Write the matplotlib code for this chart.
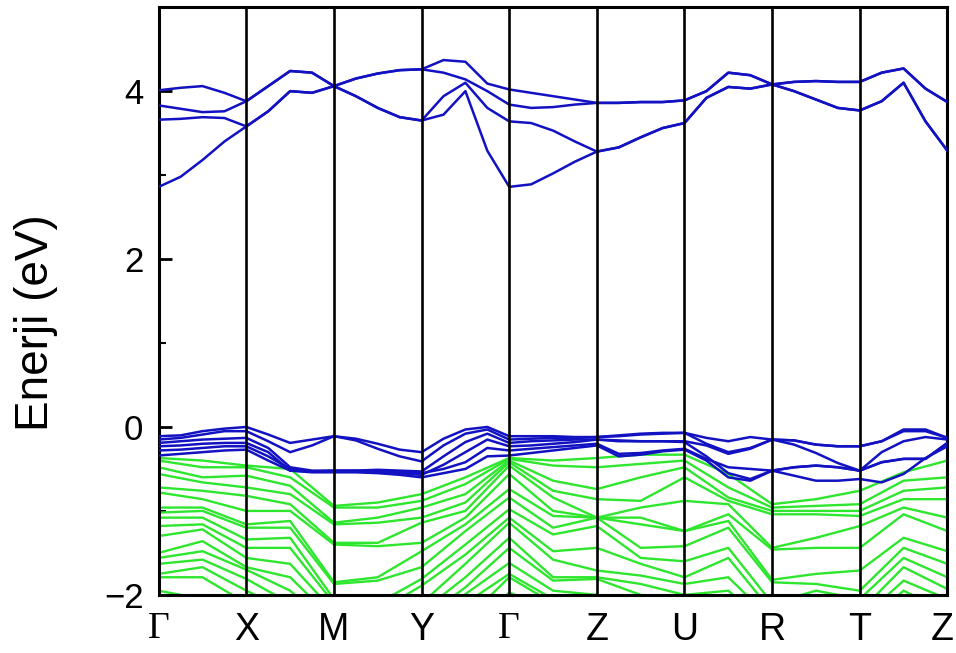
import matplotlib
matplotlib.use("Agg")
import matplotlib.pyplot as plt
import numpy as np

# high symmetry points
kpoint_labels = ['Γ', 'X', 'M', 'Y', 'Γ', 'Z', 'U', 'R', 'T', 'Z']

# conduction bands, 5 samples per segment (37 points)
cond_bands = [
    [2.86, 2.98, 3.18, 3.40, 3.58, 3.76, 4.00, 3.98, 4.06, 3.94, 3.80, 3.69, 3.65,
     3.72, 4.00, 3.29, 2.86, 2.89, 3.02, 3.16, 3.28, 3.33, 3.45, 3.56, 3.62,
     3.92, 4.05, 4.03, 4.08, 4.00, 3.90, 3.80, 3.77, 3.88, 4.10, 3.64, 3.29],
    [3.66, 3.67, 3.69, 3.68, 3.58, 3.76, 4.00, 3.98, 4.06, 3.94, 3.80, 3.69, 3.65,
     3.94, 4.10, 3.80, 3.64, 3.62, 3.53, 3.40, 3.28, 3.33, 3.45, 3.56, 3.62,
     3.92, 4.05, 4.03, 4.08, 4.00, 3.90, 3.80, 3.77, 3.88, 4.10, 3.64, 3.29],
    [3.83, 3.79, 3.75, 3.76, 3.88, 4.06, 4.24, 4.22, 4.06, 4.15, 4.21, 4.25, 4.26,
     4.22, 4.14, 4.00, 3.84, 3.80, 3.81, 3.84, 3.86, 3.86, 3.87, 3.87, 3.89,
     4.00, 4.22, 4.19, 4.08, 4.11, 4.12, 4.11, 4.11, 4.22, 4.27, 4.03, 3.87],
    [4.01, 4.04, 4.06, 3.98, 3.88, 4.06, 4.24, 4.22, 4.06, 4.15, 4.21, 4.25, 4.26,
     4.37, 4.35, 4.09, 4.02, 3.98, 3.94, 3.90, 3.86, 3.86, 3.87, 3.87, 3.89,
     4.00, 4.22, 4.19, 4.08, 4.11, 4.12, 4.11, 4.11, 4.22, 4.27, 4.03, 3.87],
]

# top valence bands (blue), 37 points
val_blue = [
    [-0.11, -0.10, -0.05, -0.02, 0.00, -0.09, -0.19, -0.15, -0.11, -0.14, -0.20, -0.27, -0.30,
     -0.14, -0.03, 0.00, -0.11, -0.11, -0.11, -0.12, -0.12, -0.10, -0.08, -0.07, -0.07,
     -0.13, -0.17, -0.12, -0.15, -0.16, -0.21, -0.23, -0.23, -0.17, -0.03, -0.03, -0.13],
    [-0.15, -0.13, -0.09, -0.05, -0.05, -0.17, -0.30, -0.22, -0.11, -0.16, -0.26, -0.35, -0.41,
     -0.22, -0.08, -0.03, -0.15, -0.14, -0.13, -0.13, -0.12, -0.11, -0.09, -0.08, -0.07,
     -0.20, -0.30, -0.25, -0.15, -0.16, -0.21, -0.23, -0.23, -0.17, -0.05, -0.05, -0.13],
    [-0.19, -0.17, -0.15, -0.14, -0.13, -0.25, -0.48, -0.52, -0.52, -0.52, -0.51, -0.52, -0.53,
     -0.35, -0.18, -0.08, -0.19, -0.17, -0.16, -0.15, -0.15, -0.16, -0.17, -0.17, -0.17,
     -0.22, -0.32, -0.26, -0.15, -0.21, -0.31, -0.43, -0.52, -0.30, -0.17, -0.12, -0.15],
    [-0.23, -0.22, -0.20, -0.19, -0.19, -0.30, -0.52, -0.53, -0.52, -0.52, -0.53, -0.55, -0.57,
     -0.45, -0.30, -0.15, -0.23, -0.22, -0.20, -0.18, -0.15, -0.17, -0.17, -0.17, -0.18,
     -0.35, -0.55, -0.62, -0.52, -0.48, -0.46, -0.48, -0.52, -0.42, -0.38, -0.38, -0.19],
    [-0.28, -0.27, -0.25, -0.23, -0.23, -0.35, -0.50, -0.53, -0.53, -0.53, -0.53, -0.54, -0.55,
     -0.50, -0.42, -0.25, -0.28, -0.26, -0.24, -0.22, -0.20, -0.32, -0.31, -0.28, -0.26,
     -0.38, -0.48, -0.50, -0.52, -0.48, -0.46, -0.48, -0.52, -0.42, -0.38, -0.38, -0.19],
    [-0.34, -0.32, -0.30, -0.28, -0.27, -0.40, -0.52, -0.54, -0.54, -0.54, -0.55, -0.57, -0.60,
     -0.55, -0.50, -0.35, -0.34, -0.31, -0.28, -0.25, -0.22, -0.35, -0.33, -0.29, -0.27,
     -0.40, -0.60, -0.64, -0.52, -0.58, -0.64, -0.64, -0.62, -0.66, -0.56, -0.37, -0.23],
]

# deeper valence bands (green), 3 samples per segment (19 points)
val_green = [
    [-0.37, -0.40, -0.46, -0.50, -0.94, -0.90, -0.80, -0.60, -0.37, -0.40, -0.37, -0.33, -0.33, -0.56, -0.92, -0.86, -0.76, -0.54, -0.40],
    [-0.40, -0.48, -0.48, -0.60, -0.96, -0.96, -0.88, -0.68, -0.38, -0.46, -0.48, -0.44, -0.40, -0.72, -0.96, -0.94, -0.92, -0.64, -0.60],
    [-0.48, -0.60, -0.58, -0.70, -1.14, -1.08, -0.96, -0.80, -0.40, -0.64, -0.74, -0.60, -0.48, -0.84, -1.00, -1.00, -1.00, -0.76, -0.72],
    [-0.56, -0.66, -0.72, -0.80, -1.16, -1.14, -1.08, -0.90, -0.42, -0.76, -0.86, -0.88, -0.60, -0.88, -1.04, -1.04, -1.06, -0.86, -0.86],
    [-0.72, -0.76, -0.82, -0.92, -1.38, -1.38, -1.14, -1.00, -0.46, -0.84, -1.08, -0.96, -0.88, -0.92, -1.44, -1.32, -1.18, -0.96, -1.08],
    [-0.78, -0.86, -1.00, -1.00, -1.40, -1.42, -1.38, -1.08, -0.56, -1.00, -1.08, -1.08, -1.24, -1.04, -1.46, -1.44, -1.44, -1.04, -1.24],
    [-0.96, -0.96, -1.16, -1.12, -1.85, -1.79, -1.48, -1.16, -0.74, -1.06, -1.08, -1.16, -1.24, -1.12, -1.82, -1.75, -1.71, -1.32, -1.48],
    [-1.02, -1.00, -1.20, -1.20, -1.87, -1.83, -1.67, -1.24, -0.84, -1.20, -1.08, -1.44, -1.42, -1.20, -1.85, -1.87, -1.95, -1.44, -1.63],
    [-1.08, -1.08, -1.34, -1.32, -2.05, -2.10, -1.81, -1.40, -0.98, -1.28, -1.18, -1.56, -1.60, -1.44, -2.10, -1.95, -2.05, -1.56, -1.79],
    [-1.18, -1.16, -1.44, -1.44, -2.10, -2.20, -1.89, -1.52, -1.08, -1.48, -1.44, -1.63, -1.79, -1.56, -2.20, -2.10, -2.20, -1.67, -1.93],
    [-1.30, -1.22, -1.56, -1.63, -2.20, -2.30, -2.10, -1.63, -1.14, -1.58, -1.71, -1.77, -1.87, -1.79, -2.30, -2.20, -2.30, -1.83, -2.05],
    [-1.50, -1.36, -1.67, -1.79, -2.30, -2.40, -2.20, -1.79, -1.32, -1.79, -1.79, -1.87, -2.00, -1.95, -2.40, -2.30, -2.40, -1.95, -2.20],
    [-1.56, -1.48, -1.70, -1.95, -2.40, -2.50, -2.30, -1.91, -1.44, -1.83, -1.81, -2.00, -2.10, -2.10, -2.50, -2.40, -2.50, -2.10, -2.30],
    [-1.63, -1.58, -1.81, -2.10, -2.50, -2.60, -2.40, -1.99, -1.62, -1.95, -2.00, -2.10, -2.20, -2.20, -2.60, -2.50, -2.60, -2.20, -2.40],
    [-1.75, -1.67, -1.95, -2.20, -2.60, -2.70, -2.50, -2.10, -1.75, -2.05, -2.10, -2.20, -2.30, -2.30, -2.70, -2.60, -2.70, -2.30, -2.50],
    [-1.79, -1.79, -2.10, -2.30, -2.70, -2.80, -2.60, -2.30, -1.79, -2.10, -2.20, -2.30, -2.40, -2.40, -2.80, -2.70, -2.80, -2.40, -2.60],
    [-1.95, -2.05, -2.20, -2.40, -2.80, -2.90, -2.70, -2.50, -1.97, -2.20, -2.30, -2.40, -2.50, -2.50, -2.90, -2.80, -2.90, -2.50, -2.70],
]

BLUE = '#1212c2'
GREEN = '#2ee62e'

k_fine = np.linspace(0, 9, 37)
k_coarse = np.linspace(0, 9, 19)

plt.rcParams['font.family'] = ['Liberation Sans', 'DejaVu Sans']
fig = plt.figure(figsize=(9.56, 6.53), dpi=100)
ax = fig.add_axes([0.166, 0.089, 0.825, 0.90])

for b in val_green:
    ax.plot(k_coarse, b, color=GREEN, lw=1.7, zorder=2)
for b in val_blue:
    ax.plot(k_fine, b, color=BLUE, lw=1.8, zorder=3)
for b in cond_bands:
    ax.plot(k_fine, b, color=BLUE, lw=1.8, zorder=3)

for i in range(1, 9):
    ax.axvline(i, color='black', lw=1.9, zorder=4)

ax.set_xlim(0, 9)
ax.set_ylim(-2, 5)
# last label drawn separately so it can sit a bit inside the right edge
ax.set_xticks(range(9))
ax.set_xticklabels(kpoint_labels[:-1], fontsize=27)
for i, lab in enumerate(ax.get_xticklabels()):
    if kpoint_labels[i] == 'Γ':
        lab.set_fontfamily(['Liberation Serif', 'DejaVu Serif'])
ax.tick_params(axis='x', length=0, pad=12)
ax.annotate(kpoint_labels[-1], xy=(9, 0), xycoords=('data', 'axes fraction'),
            xytext=(-4, -12), textcoords='offset points',
            ha='center', va='top', fontsize=27)

ax.set_yticks([-2, 0, 2, 4])
ax.set_yticks([-1, 1, 3], minor=True)
ax.tick_params(axis='y', which='major', direction='in', length=9, width=2,
               labelsize=25, pad=11)
ax.tick_params(axis='y', which='minor', direction='in', length=5, width=1.5)
ax.set_ylabel('Enerji (eV)', fontsize=33)
ax.yaxis.set_label_coords(-0.128, 0.464)

for s in ax.spines.values():
    s.set_linewidth(2.2)

fig.savefig('out.png', dpi=100)
